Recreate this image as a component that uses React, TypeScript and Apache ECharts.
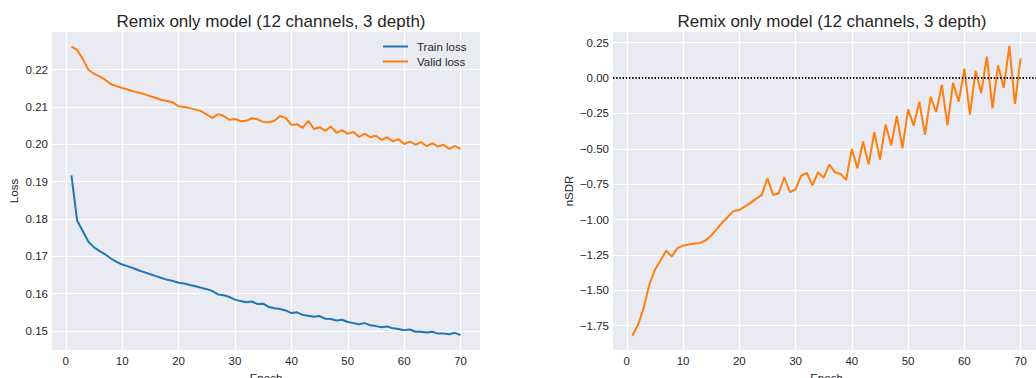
import React, { useEffect, useRef } from "react";
import * as echarts from "echarts";

const epochs: number[] = Array.from({ length: 70 }, (_, i) => i + 1);

const trainLoss = [
  0.1917, 0.1796, 0.1768, 0.1739, 0.1724, 0.1714, 0.1705, 0.1694, 0.1685, 0.1678,
  0.1673, 0.1668, 0.1662, 0.1657, 0.1652, 0.1647, 0.1642, 0.1637, 0.1634, 0.1629,
  0.1627, 0.1623, 0.162, 0.1616, 0.1612, 0.1607, 0.1598, 0.1596, 0.1591, 0.1584,
  0.158, 0.1577, 0.1579, 0.1572, 0.1573, 0.1564, 0.1561, 0.1559, 0.1555, 0.1548,
  0.155, 0.1543, 0.1541, 0.1538, 0.154, 0.1533, 0.1532, 0.1528, 0.153, 0.1524,
  0.1521, 0.1518, 0.1521, 0.1515, 0.1513, 0.151, 0.1512, 0.1507, 0.1505, 0.1502,
  0.1504, 0.1498, 0.1498, 0.1496, 0.1498, 0.1493, 0.1493, 0.1491, 0.1495, 0.1489,
];

const validLoss = [
  0.2262, 0.2253, 0.2229, 0.22, 0.2189, 0.2182, 0.2173, 0.2161, 0.2156, 0.2151,
  0.2147, 0.2142, 0.2138, 0.2134, 0.2129, 0.2124, 0.2119, 0.2116, 0.2112, 0.2102,
  0.21, 0.2097, 0.2093, 0.2089, 0.208, 0.2071, 0.2081, 0.2076, 0.2066, 0.2068,
  0.2062, 0.2063, 0.207, 0.2067, 0.206, 0.2059, 0.2063, 0.2076, 0.2071, 0.2052,
  0.2054, 0.2044, 0.2063, 0.2041, 0.2046, 0.2036, 0.2048, 0.2031, 0.2038, 0.2028,
  0.2033, 0.202, 0.2028, 0.2019, 0.2023, 0.2012, 0.2019, 0.2008, 0.2014, 0.2001,
  0.2007, 0.1999, 0.2006, 0.1995, 0.2003, 0.1994, 0.1999, 0.1988, 0.1996, 0.1988,
];

const nsdr = [
  -1.821, -1.744, -1.626, -1.461, -1.355, -1.289, -1.221, -1.261, -1.202, -1.184,
  -1.176, -1.169, -1.165, -1.148, -1.113, -1.068, -1.021, -0.979, -0.939, -0.932,
  -0.908, -0.882, -0.852, -0.826, -0.708, -0.826, -0.814, -0.701, -0.807, -0.786,
  -0.689, -0.671, -0.758, -0.665, -0.704, -0.612, -0.666, -0.678, -0.72, -0.501,
  -0.638, -0.449, -0.609, -0.381, -0.576, -0.329, -0.475, -0.268, -0.496, -0.221,
  -0.336, -0.167, -0.402, -0.132, -0.24, -0.049, -0.334, -0.033, -0.167, 0.066,
  -0.258, 0.052, -0.108, 0.151, -0.215, 0.089, -0.07, 0.227, -0.183, 0.139,
];

const xTicks = [0, 10, 20, 30, 40, 50, 60, 70];
const lossTicks = [0.15, 0.16, 0.17, 0.18, 0.19, 0.2, 0.21, 0.22];
const nsdrTicks = [-1.75, -1.5, -1.25, -1.0, -0.75, -0.5, -0.25, 0.0, 0.25];

const title = "Remix only model (12 channels, 3 depth)";
const FONT = "Liberation Sans, Arial, sans-serif";
const TXT = "#262626";
const BLUE = "#1f77b4";
const ORANGE = "#ff7f0e";

const fmt2 = (v: number) => v.toFixed(2).replace("-", "\u2212");

export default function App() {
  const ref = useRef<HTMLDivElement>(null);
  useEffect(() => {
    if (!ref.current) return;
    const chart = echarts.init(ref.current, null, { renderer: "svg" });
    const pair = (arr: number[]) => arr.map((v, i) => [epochs[i], v]);
    const xAxisBase = (gridIndex: number) => ({
      type: "value",
      gridIndex,
      min: -2.45,
      max: 73.45,
      name: "Epoch",
      nameLocation: "middle",
      nameGap: 18,
      nameTextStyle: { color: TXT, fontSize: 11.5, fontFamily: FONT },
      axisLine: { show: false },
      axisTick: { show: false, customValues: xTicks },
      axisLabel: {
        customValues: xTicks,
        color: TXT,
        fontSize: 11.5,
        fontFamily: FONT,
        margin: 5,
        formatter: (v: number) => String(Math.round(v)),
      },
      splitLine: { show: true, lineStyle: { color: "#ffffff", width: 1.2 } },
    });
    chart.setOption({
      animation: false,
      title: [
        {
          text: title,
          left: 266,
          top: 8,
          textAlign: "center",
          textStyle: { color: TXT, fontSize: 17, fontWeight: "normal", fontFamily: FONT },
        },
        {
          text: title,
          left: 827,
          top: 8,
          textAlign: "center",
          textStyle: { color: TXT, fontSize: 17, fontWeight: "normal", fontFamily: FONT },
        },
      ],
      legend: {
        orient: "vertical",
        left: 383,
        top: 40.5,
        padding: 0,
        itemWidth: 25,
        itemHeight: 2,
        itemGap: 3,
        icon: "rect",
        data: ["Train loss", "Valid loss"],
        textStyle: { color: TXT, fontSize: 11.5, fontFamily: FONT, padding: [0, 0, 0, 4] },
      },
      grid: [
        {
          left: 52, top: 32, width: 428, height: 318, show: true,
          backgroundColor: "#EAEAF2", borderWidth: 0, outerBoundsMode: "none", containLabel: false,
        },
        {
          left: 613, top: 32, width: 427, height: 318, show: true,
          backgroundColor: "#EAEAF2", borderWidth: 0, outerBoundsMode: "none", containLabel: false,
        },
      ],
      xAxis: [xAxisBase(0), xAxisBase(1)],
      yAxis: [
        {
          type: "value",
          gridIndex: 0,
          min: 0.1449,
          max: 0.2301,
          name: "Loss",
          nameLocation: "middle",
          nameGap: 32,
          nameTextStyle: { color: TXT, fontSize: 11.5, fontFamily: FONT },
          axisLine: { show: false },
          axisTick: { show: false, customValues: lossTicks },
          axisLabel: {
            customValues: lossTicks,
            color: TXT,
            fontSize: 11.5,
            fontFamily: FONT,
            margin: 4,
            formatter: fmt2,
          },
          splitLine: { show: true, lineStyle: { color: "#ffffff", width: 1.2 } },
        },
        {
          type: "value",
          gridIndex: 1,
          min: -1.922,
          max: 0.3255,
          name: "nSDR",
          nameLocation: "middle",
          nameGap: 38,
          nameTextStyle: { color: TXT, fontSize: 11.5, fontFamily: FONT },
          axisLine: { show: false },
          axisTick: { show: false, customValues: nsdrTicks },
          axisLabel: {
            customValues: nsdrTicks,
            color: TXT,
            fontSize: 11.5,
            fontFamily: FONT,
            margin: 4,
            formatter: fmt2,
          },
          splitLine: { show: true, lineStyle: { color: "#ffffff", width: 1.2 } },
        },
      ],
      series: [
        {
          name: "Train loss",
          type: "line",
          xAxisIndex: 0,
          yAxisIndex: 0,
          data: pair(trainLoss),
          showSymbol: false,
          color: BLUE,
          lineStyle: { color: BLUE, width: 2 },
        },
        {
          name: "Valid loss",
          type: "line",
          xAxisIndex: 0,
          yAxisIndex: 0,
          data: pair(validLoss),
          showSymbol: false,
          color: ORANGE,
          lineStyle: { color: ORANGE, width: 2 },
        },
        {
          name: "nSDR",
          type: "line",
          xAxisIndex: 1,
          yAxisIndex: 1,
          data: pair(nsdr),
          showSymbol: false,
          color: ORANGE,
          lineStyle: { color: ORANGE, width: 2 },
          markLine: {
            silent: true,
            symbol: ["none", "none"],
            label: { show: false },
            lineStyle: { color: "#000000", width: 2, type: [1.4, 1.8] },
            data: [{ yAxis: 0 }],
          },
        },
      ],
    });
    return () => chart.dispose();
  }, []);
  return (
    <div
      ref={ref}
      style={{ position: "absolute", left: 0, top: 0, width: 1036, height: 378 }}
    />
  );
}
